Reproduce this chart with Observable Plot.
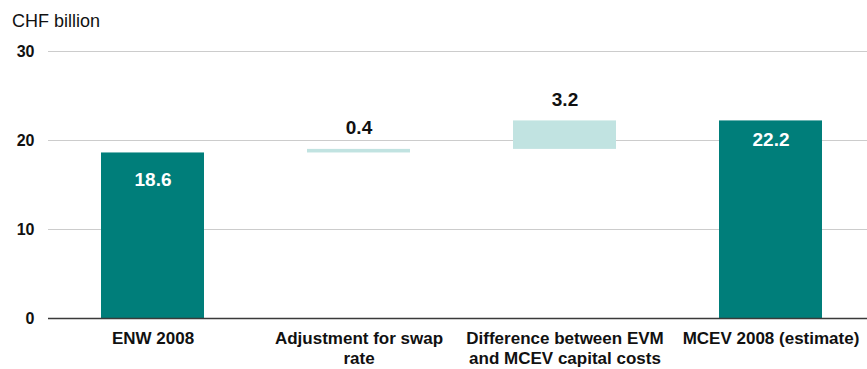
<!DOCTYPE html>
<html>
<head>
<meta charset="utf-8">
<script src="https://cdn.jsdelivr.net/npm/d3@7"></script>
<script src="https://cdn.jsdelivr.net/npm/@observablehq/plot@0.6"></script>
<style>
  body { margin: 0; background: #fff; font-family: "Liberation Sans", Arial, sans-serif; }
  #unit { height: 34px; box-sizing: border-box; padding: 12px 0 0 12px; font-size: 18px; line-height: 18px; color: #111; }
  #chart svg { display: block; }
</style>
</head>
<body>
<div id="unit">CHF billion</div>
<div id="chart"></div>
<script>
// Bridge from embedded value (ENW) to market-consistent embedded value (MCEV)
const categories = [
  "ENW 2008",
  "Adjustment for swap\nrate",
  "Difference between EVM\nand MCEV capital costs",
  "MCEV 2008 (estimate)"
];
const values = [18.6, 0.4, 3.2, 22.2];
const kinds = ["total", "step", "step", "total"];
const yTicks = [0, 10, 20, 30];

const dark = "#007e7a";
const light = "#c1e3e1";

// running totals for the waterfall
let running = 0;
const rows = categories.map((category, i) => {
  const v = values[i];
  let y1, y2;
  if (kinds[i] === "total") { y1 = 0; y2 = v; running = v; }
  else { y1 = running; y2 = running + v; running = y2; }
  return { category, value: v, kind: kinds[i], y1, y2 };
});

const fmt = d3.format(".1f");
const font = "'Liberation Sans', Arial, sans-serif";

const chart = Plot.plot({
  width: 867,
  height: 335,
  marginTop: 17,
  marginBottom: 51,
  marginLeft: 48,
  marginRight: 0,
  style: { fontFamily: font, color: "#111", background: "#fff" },
  x: { domain: categories, range: [48, 875], paddingInner: 0.5, paddingOuter: 0.25, label: null },
  y: { domain: [0, 30], label: null },
  marks: [
    Plot.gridY(yTicks.filter(d => d !== 0), { stroke: "#cccccc", strokeOpacity: 1, strokeWidth: 1.2 }),
    Plot.barY(rows, {
      x: "category", y1: "y1", y2: "y2",
      fill: d => d.kind === "total" ? dark : light
    }),
    Plot.ruleY([0], { stroke: "#3a3a3a", strokeWidth: 1.5 }),
    Plot.axisY(yTicks, {
      tickSize: 0, tickPadding: 14, fontSize: 16, fontWeight: "bold", label: null
    }),
    Plot.axisX({
      tickSize: 0, tickPadding: 12, fontSize: 17, fontWeight: "bold",
      lineHeight: 1.15, label: null
    }),
    // value labels: totals inside the bar, steps above it
    Plot.text(rows.filter((d, i) => i === 0), {
      x: "category", y: "y2", text: d => fmt(d.value), dy: 27,
      fill: "white", fontSize: 19, fontWeight: "bold"
    }),
    Plot.text(rows.filter((d, i) => i === rows.length - 1), {
      x: "category", y: "y2", text: d => fmt(d.value), dy: 19,
      fill: "white", fontSize: 19, fontWeight: "bold"
    }),
    Plot.text(rows.filter(d => d.kind === "step"), {
      x: "category", y: "y2", text: d => fmt(d.value), dy: -21,
      fill: "#111", fontSize: 19, fontWeight: "bold"
    })
  ]
});

document.getElementById("chart").appendChild(chart);
</script>
</body>
</html>
